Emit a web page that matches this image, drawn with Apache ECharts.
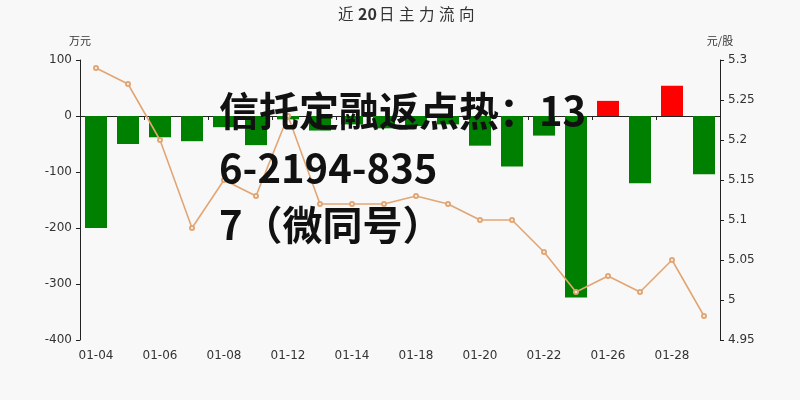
<!DOCTYPE html>
<html>
<head>
<meta charset="utf-8">
<script src="https://cdn.jsdelivr.net/npm/echarts@6/dist/echarts.min.js"></script>
<style>
html,body{margin:0;padding:0;background:#f8f8f8;}
#chart{width:800px;height:400px;}
</style>
</head>
<body>
<div id="chart"></div>
<script>
const categories = ['01-04','01-05','01-06','01-07','01-08','01-11','01-12','01-13','01-14','01-15','01-18','01-19','01-20','01-21','01-22','01-25','01-26','01-27','01-28','01-29'];
const flowValues = [-200,-50,-38,-45,-20,-52,-6,-26,-15,-22,-18,-15,-53,-90,-35,-324,27,-120,54,-104];
const priceValues = [5.29,5.27,5.2,5.09,5.15,5.13,5.23,5.12,5.12,5.12,5.13,5.12,5.10,5.10,5.06,5.01,5.03,5.01,5.05,4.98];
const titleParts = ['近','20','日','主','力','流','向'];
const overlayLines = ['信托定融返点热：13','6-2194-835','7（微同号）'];

const chart = echarts.init(document.getElementById('chart'));
const font = '"Noto Sans CJK SC","DejaVu Sans",sans-serif';
const titleText = titleParts.map(p => (/^\d+$/.test(p) ? '{b|' : '{a|') + p + '}').join('');
chart.setOption({
  backgroundColor: '#f8f8f8',
  animation: false,
  title: {
    text: titleText,
    left: 333,
    top: 1,
    textStyle: {
      rich: {
        a: {fontSize: 15.5, color: '#333', fontWeight: 'normal', fontFamily: font, width: 20, align: 'left'},
        b: {fontSize: 16, color: '#333', fontWeight: 'bold', fontFamily: font, width: 21, align: 'left'}
      }
    }
  },
  grid: {left: 80, right: 80, top: 60, bottom: 60},
  xAxis: [
    {
      type: 'category', data: categories, position: 'bottom',
      axisLine: {show: false, onZero: false},
      axisTick: {show: false},
      axisLabel: {interval: 1, color: '#333', fontSize: 12, margin: 10, fontFamily: 'DejaVu Sans'}
    },
    {
      type: 'category', data: categories, position: 'bottom',
      axisLine: {show: true, onZero: true, onZeroAxisIndex: 0, lineStyle: {color: '#222'}},
      axisTick: {show: true, interval: 1, length: 4, lineStyle: {color: '#222'}},
      axisLabel: {show: false}
    }
  ],
  yAxis: [
    {
      type: 'value', min: -400, max: 100, interval: 100,
      name: '万元', nameGap: 14,
      nameTextStyle: {color: '#333', fontSize: 11, fontFamily: font},
      axisLine: {show: true, lineStyle: {color: '#222'}},
      axisTick: {show: true, length: 4, lineStyle: {color: '#222'}},
      axisLabel: {color: '#333', fontSize: 12, margin: 8, fontFamily: 'DejaVu Sans'},
      splitLine: {show: false}
    },
    {
      type: 'value', min: 4.95, max: 5.3, interval: 0.05,
      name: '元/股', nameGap: 14,
      nameTextStyle: {color: '#333', fontSize: 11, fontFamily: font},
      axisLine: {show: true, lineStyle: {color: '#222'}},
      axisTick: {show: true, length: 4, lineStyle: {color: '#222'}},
      axisLabel: {color: '#333', fontSize: 12, margin: 8, fontFamily: 'DejaVu Sans',
        formatter: v => String(Math.round(v * 100) / 100)},
      splitLine: {show: false}
    }
  ],
  series: [
    {
      type: 'bar', xAxisIndex: 0, yAxisIndex: 0,
      barWidth: 22,
      data: flowValues.map(v => ({value: v, itemStyle: {color: v >= 0 ? '#ff0000' : '#008000'}}))
    },
    {
      type: 'line', xAxisIndex: 0, yAxisIndex: 1,
      data: priceValues,
      symbol: 'emptyCircle', symbolSize: 4, showSymbol: true,
      lineStyle: {color: '#e2a674', width: 1.6},
      itemStyle: {color: '#e2a674'}
    }
  ],
  graphic: [
    {
      type: 'text', left: 219, top: 82, z: 100,
      style: {
        text: overlayLines.join('\n'),
        font: 'bold 40px "Noto Sans CJK SC", sans-serif',
        fill: '#111',
        lineHeight: 57
      }
    }
  ]
});
</script>
</body>
</html>
